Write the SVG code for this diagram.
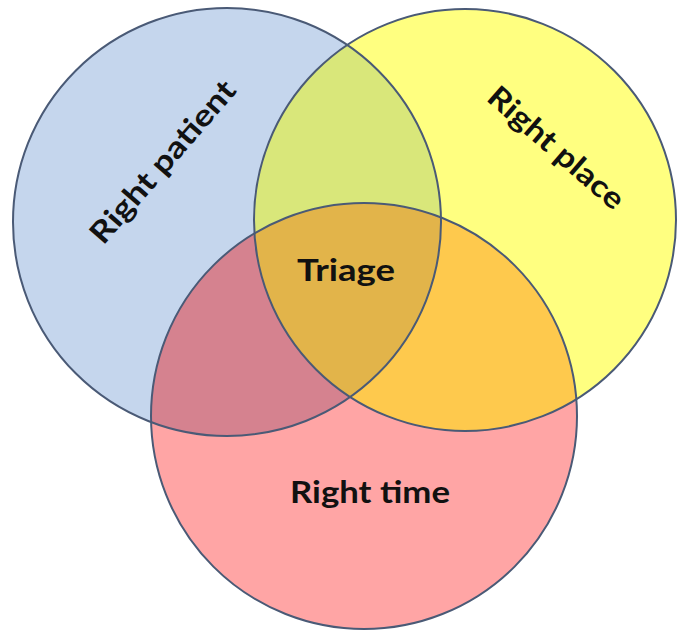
<svg xmlns="http://www.w3.org/2000/svg" width="685" height="631" viewBox="0 0 685 631">
<defs>
<style>
.lbl{font-family:Lato,"Open Sans","Liberation Sans",sans-serif;font-weight:bold;font-size:30px;fill:#111;text-anchor:middle}
.edge{fill:none;stroke:#4a5a76;stroke-width:2}
</style>
<clipPath id="cB"><circle cx="227" cy="222" r="214"/></clipPath>
<clipPath id="cY"><circle cx="465" cy="220" r="211"/></clipPath>
<clipPath id="cR"><circle cx="364" cy="416" r="213"/></clipPath>
</defs>
<rect width="685" height="631" fill="#ffffff"/>
<g id="patient">
<circle cx="227" cy="222" r="214" fill="#c5d6ed"/>
</g>
<g id="place">
<circle cx="465" cy="220" r="211" fill="#ffff80"/>
</g>
<g id="time">
<circle cx="364" cy="416" r="213" fill="#ffa5a5"/>
</g>
<g id="overlaps">
<g clip-path="url(#cY)"><circle cx="227" cy="222" r="214" fill="#d9e77a"/></g>
<g clip-path="url(#cR)"><circle cx="227" cy="222" r="214" fill="#d5828f"/></g>
<g clip-path="url(#cR)"><circle cx="465" cy="220" r="211" fill="#fec94d"/></g>
<g clip-path="url(#cB)"><g clip-path="url(#cR)"><circle cx="465" cy="220" r="211" fill="#e2b44a"/></g></g>
</g>
<g id="outlines">
<circle class="edge" cx="227" cy="222" r="214"/>
<circle class="edge" cx="465" cy="220" r="211"/>
<circle class="edge" cx="364" cy="416" r="213"/>
</g>
<g id="labels">
<text class="lbl" transform="translate(163,162) rotate(-49)" y="10" textLength="205" lengthAdjust="spacingAndGlyphs">Right patient</text>
<text class="lbl" transform="translate(556,148) rotate(41)" y="10" textLength="170" lengthAdjust="spacingAndGlyphs">Right place</text>
<text class="lbl" x="346" y="281" textLength="98" lengthAdjust="spacingAndGlyphs">Triage</text>
<text class="lbl" x="370" y="503" textLength="160" lengthAdjust="spacingAndGlyphs">Right time</text>
</g>
</svg>
